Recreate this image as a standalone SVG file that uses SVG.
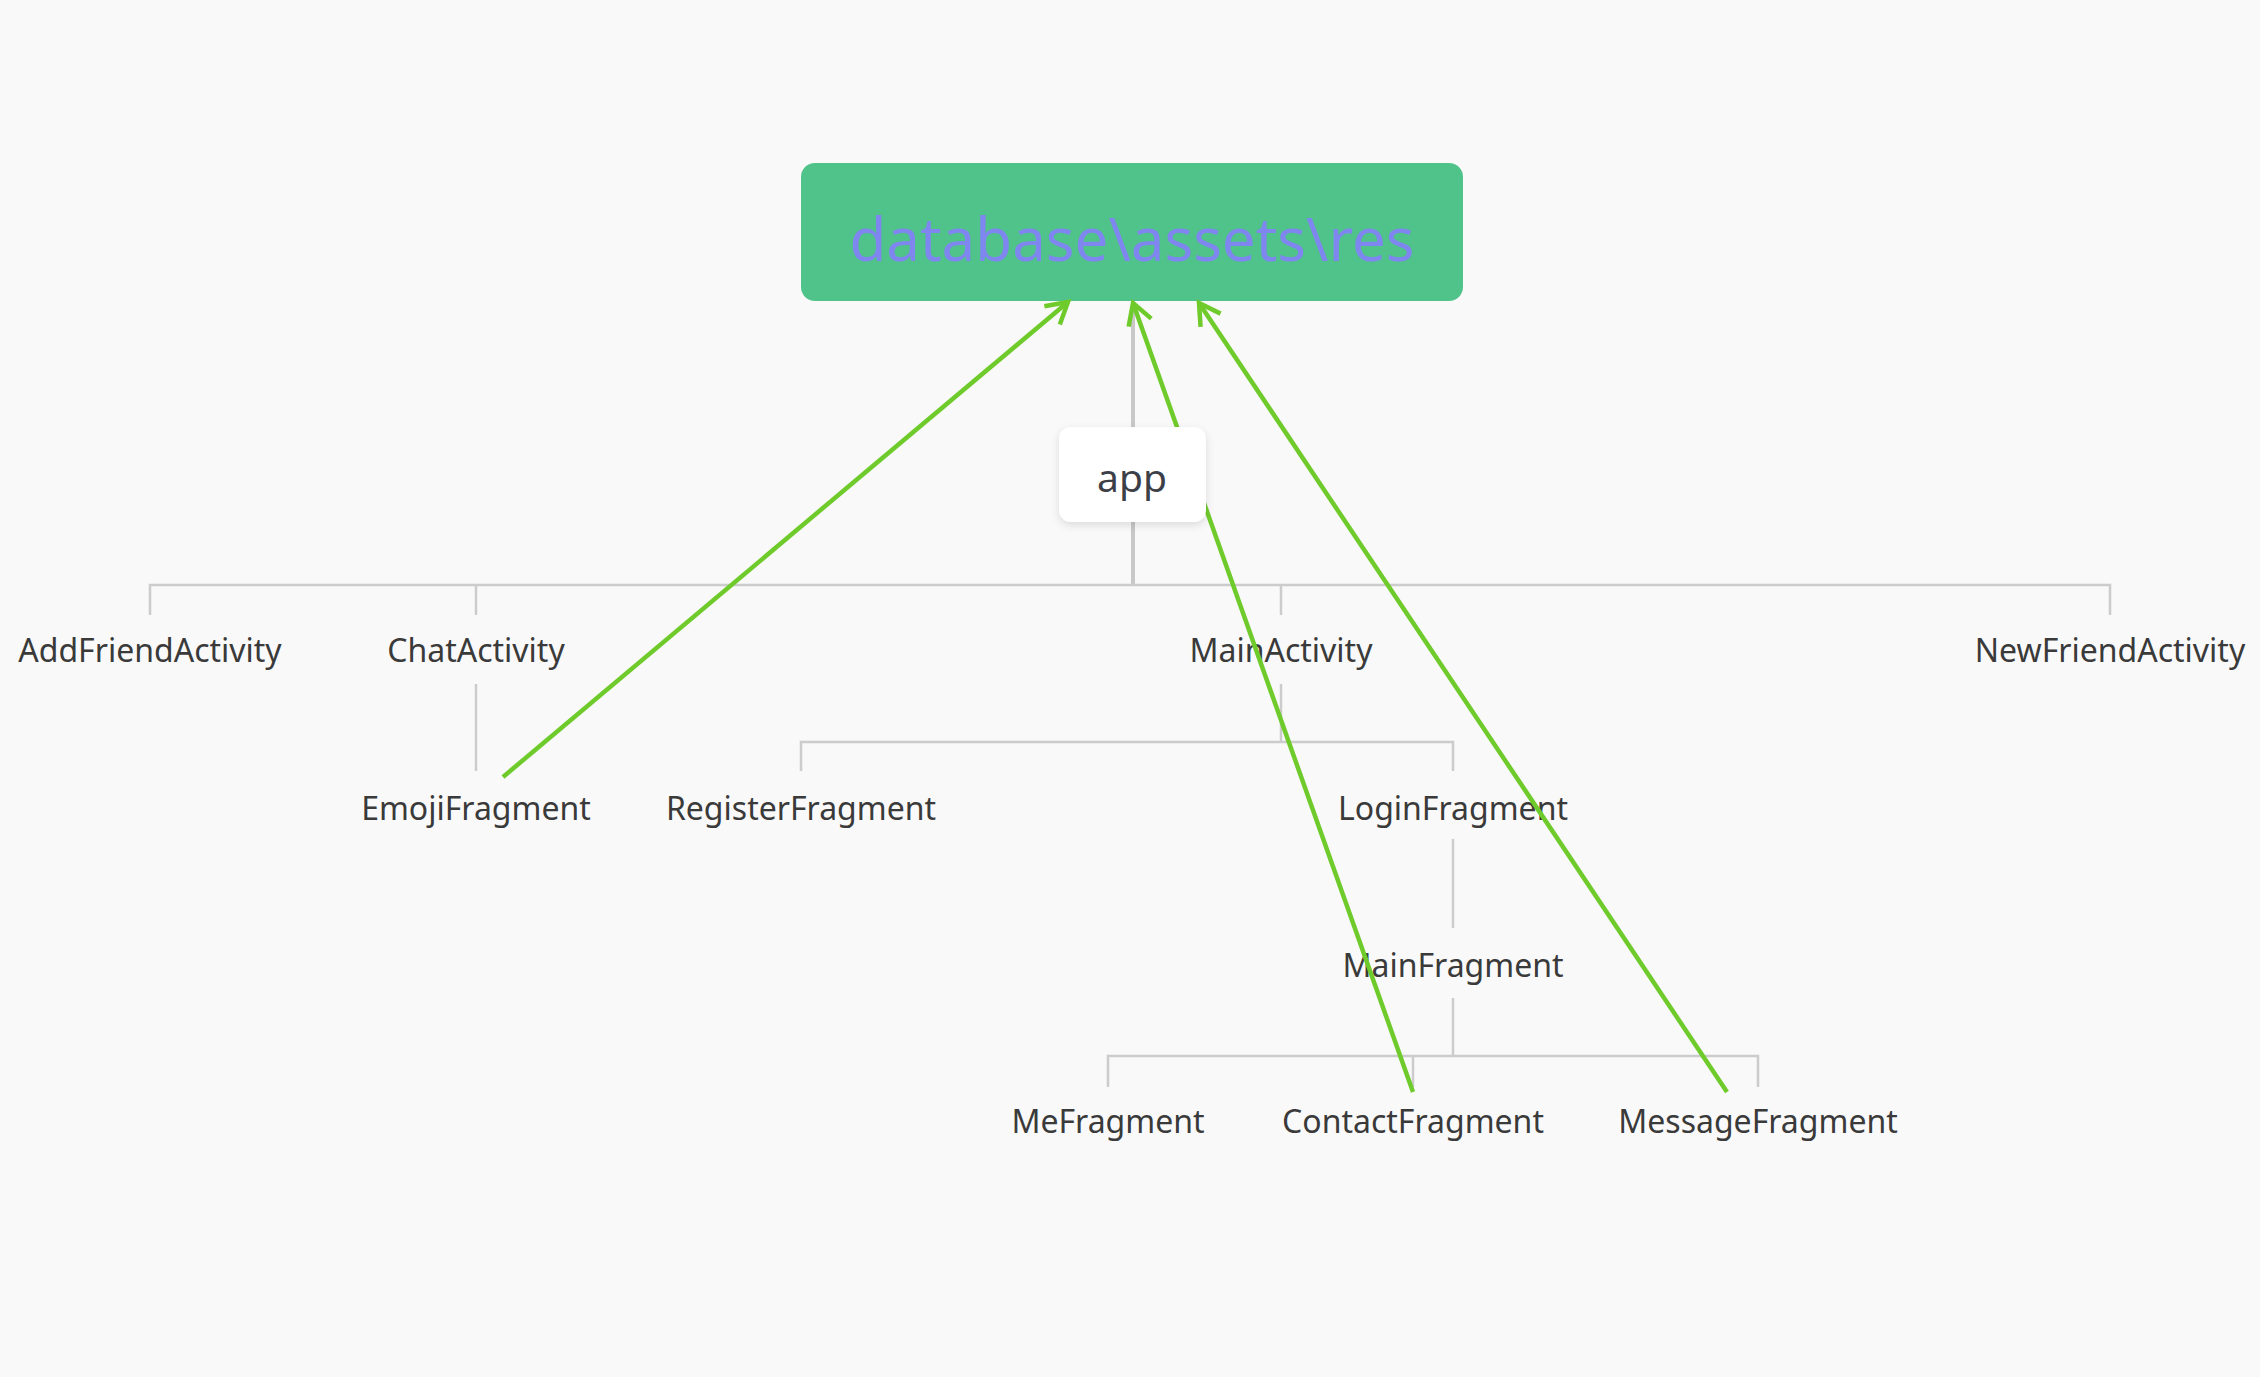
<svg xmlns="http://www.w3.org/2000/svg" width="2260" height="1377" viewBox="0 0 2260 1377">
  <defs>
    <style>
      .lbl { font-family: "Noto Sans", "Open Sans", "Liberation Sans", sans-serif; font-size: 32px; fill: #3a3a3a; text-anchor: middle; }
      .tree { stroke: #cccccc; stroke-width: 2.5; fill: none; }
      .tree-main { stroke: #c8c8c8; stroke-width: 4; fill: none; }
      .ref { stroke: #6fcb2b; stroke-width: 4.5; fill: none; marker-end: url(#arrow); }
    </style>
    <marker id="arrow" markerUnits="userSpaceOnUse" viewBox="-30 -20 40 40" markerWidth="40" markerHeight="40" refX="0" refY="0" orient="auto" overflow="visible">
      <path d="M -20.8 -12 L 0 0 L -20.8 12" fill="none" stroke="#6fcb2b" stroke-width="4.5" stroke-linecap="butt" stroke-linejoin="miter"/>
    </marker>
    <filter id="shadow" x="-20%" y="-20%" width="140%" height="150%">
      <feDropShadow dx="0" dy="3" stdDeviation="4" flood-color="#000000" flood-opacity="0.12"/>
    </filter>
  </defs>

  <rect x="0" y="0" width="2260" height="1377" fill="#f9f9f9"/>

  <!-- Root node -->
  <g id="node-database">
    <rect x="801" y="163" width="662" height="138" rx="14" ry="14" fill="#50c38b"/>
    <text x="1132" y="261" font-family="'Noto Sans', 'Open Sans', 'Liberation Sans', sans-serif" font-size="60" fill="#7f86ef" text-anchor="middle">database\assets\res</text>
  </g>

  <!-- Label nodes -->
  <g id="node-AddFriendActivity"><text class="lbl" x="150" y="662">AddFriendActivity</text></g>
  <g id="node-ChatActivity"><text class="lbl" x="476" y="662">ChatActivity</text></g>
  <g id="node-MainActivity"><text class="lbl" x="1281" y="662">MainActivity</text></g>
  <g id="node-NewFriendActivity"><text class="lbl" x="2110" y="662">NewFriendActivity</text></g>
  <g id="node-EmojiFragment"><text class="lbl" x="476" y="820">EmojiFragment</text></g>
  <g id="node-RegisterFragment"><text class="lbl" x="801" y="820">RegisterFragment</text></g>
  <g id="node-LoginFragment"><text class="lbl" x="1453" y="820">LoginFragment</text></g>
  <g id="node-MainFragment"><text class="lbl" x="1453" y="977">MainFragment</text></g>
  <g id="node-MeFragment"><text class="lbl" x="1108" y="1133">MeFragment</text></g>
  <g id="node-ContactFragment"><text class="lbl" x="1413" y="1133">ContactFragment</text></g>
  <g id="node-MessageFragment"><text class="lbl" x="1758" y="1133">MessageFragment</text></g>

  <!-- Connectors -->
  <g id="connectors">
    <!-- tree -->
    <line class="tree-main" x1="1133" y1="301" x2="1133" y2="427"/>
    <line class="tree-main" x1="1133" y1="522" x2="1133" y2="585"/>
    <path class="tree" d="M150 615 V585 H2110 V615"/>
    <line class="tree" x1="476" y1="585" x2="476" y2="615"/>
    <line class="tree" x1="1281" y1="585" x2="1281" y2="615"/>
    <line class="tree" x1="476" y1="684" x2="476" y2="771"/>
    <line class="tree" x1="1281" y1="684" x2="1281" y2="742"/>
    <path class="tree" d="M801 771 V742 H1453 V771"/>
    <line class="tree" x1="1453" y1="839" x2="1453" y2="928"/>
    <line class="tree" x1="1453" y1="998" x2="1453" y2="1056"/>
    <path class="tree" d="M1108 1087 V1056 H1758 V1087"/>
    <line class="tree" x1="1413" y1="1056" x2="1413" y2="1087"/>
    <!-- references -->
    <line class="ref" x1="503" y1="777" x2="1068" y2="302"/>
    <line class="ref" x1="1413" y1="1092" x2="1133" y2="303"/>
    <line class="ref" x1="1727" y1="1092" x2="1199" y2="303"/>
  </g>

  <!-- app node (drawn above connectors) -->
  <g id="node-app">
    <rect x="1059" y="427" width="147" height="95" rx="12" ry="12" fill="#ffffff" filter="url(#shadow)"/>
    <text x="1132" y="492" font-family="'Noto Sans', 'Open Sans', 'Liberation Sans', sans-serif" font-size="39" fill="#3c3f48" text-anchor="middle">app</text>
  </g>
</svg>
